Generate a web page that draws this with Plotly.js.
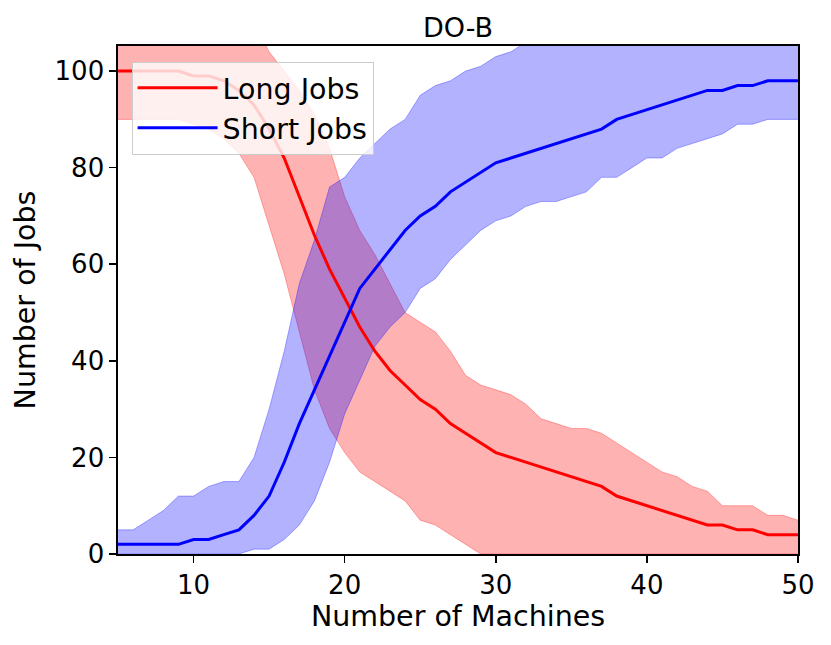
<!DOCTYPE html>
<html>
<head>
<meta charset="utf-8">
<script src="https://cdn.plot.ly/plotly-3.0.1.min.js"></script>
<style>
  html, body { margin: 0; padding: 0; background: #fff; }
  #plot { width: 831px; height: 645px; }
</style>
</head>
<body>
<div id="plot"></div>
<script>
// number of machines, 5..50
const machines = [5, 6, 7, 8, 9, 10, 11, 12, 13, 14, 15, 16, 17, 18, 19, 20, 21, 22, 23, 24, 25, 26, 27,
  28, 29, 30, 31, 32, 33, 34, 35, 36, 37, 38, 39, 40, 41, 42, 43, 44, 45, 46, 47, 48, 49, 50];

// long jobs: mean and band edges
const longMean = [100, 100, 100, 100, 100, 99, 99, 98, 96, 93, 88, 82, 74, 66, 59, 53, 47, 42, 38, 35, 32, 30, 27,
  25, 23, 21, 20, 19, 18, 17, 16, 15, 14, 12, 11, 10, 9, 8, 7, 6, 6, 5, 5, 4, 4, 4];
const longLow = [90, 90, 90, 90, 90, 89, 88, 86, 83, 78, 68, 58, 46, 34, 26, 21, 17, 15, 13, 11, 7, 6, 4,
  2, 0, 0, 0, 0, 0, 0, 0, 0, 0, 0, 0, 0, 0, 0, 0, 0, 0, 0, 0, 0, 0, 0];
const longHigh = [110, 110, 110, 110, 110, 110, 110, 110, 110, 110, 104, 100, 96, 91, 84, 74, 67, 62, 56, 50, 48, 46, 42,
  37, 35, 34, 33, 31, 28, 27, 26, 26, 25, 23, 21, 19, 17, 16, 14, 13, 10, 10, 10, 8, 8, 7];

// short jobs: mean and band edges
const shortMean = [2, 2, 2, 2, 2, 3, 3, 4, 5, 8, 12, 19, 27, 34, 41, 48, 55, 59, 63, 67, 70, 72, 75,
  77, 79, 81, 82, 83, 84, 85, 86, 87, 88, 90, 91, 92, 93, 94, 95, 96, 96, 97, 97, 98, 98, 98];
const shortLow = [0, 0, 0, 0, 0, 0, 0, 0, 0, 1, 1, 3, 6, 11, 19, 29, 36, 43, 47, 50, 55, 57, 61,
  64, 67, 69, 70, 72, 73, 73, 74, 75, 78, 78, 80, 82, 82, 84, 85, 86, 87, 89, 89, 90, 90, 90];
const shortHigh = [5, 5, 7, 9, 12, 12, 14, 15, 15, 20, 30, 42, 56, 65, 76, 78, 82, 85, 88, 90, 95, 97, 98,
  100, 101, 103, 104, 106, 107, 108, 108, 109, 110, 110, 110, 110, 110, 110, 110, 110, 110, 110, 110, 110, 110, 110];

const font = "DejaVu Sans, Arial, sans-serif";

function band(lo, hi, edge, fill) {
  return [
    { x: machines, y: lo, type: "scatter", mode: "lines", line: { color: edge, width: 1 },
      showlegend: false, hoverinfo: "skip" },
    { x: machines, y: hi, type: "scatter", mode: "lines", line: { color: edge, width: 1 },
      fill: "tonexty", fillcolor: fill, showlegend: false, hoverinfo: "skip" }
  ];
}

const traces = [
  ...band(longLow, longHigh, "rgba(255,0,0,0.3)", "rgba(255,0,0,0.3)"),
  ...band(shortLow, shortHigh, "rgba(0,0,255,0.3)", "rgba(0,0,255,0.3)"),
  { x: machines, y: longMean, type: "scatter", mode: "lines", name: "Long Jobs", legendgroup: "long",
    line: { color: "red", width: 3 } },
  { x: machines, y: shortMean, type: "scatter", mode: "lines", name: "Short Jobs", legendgroup: "short",
    line: { color: "blue", width: 3 } }
];

const axisStyle = {
  showline: true, mirror: true, linecolor: "black", linewidth: 1.6,
  ticks: "outside", ticklen: 7, tickwidth: 1.6, tickcolor: "black",
  showgrid: false, zeroline: false,
  tickfont: { family: font, size: 26, color: "black" }
};

const layout = {
  width: 831, height: 645,
  margin: { l: 118, r: 33, t: 46, b: 91 },
  paper_bgcolor: "white", plot_bgcolor: "white",
  font: { family: font, color: "black" },
  title: { text: "DO-B", font: { family: font, size: 27, color: "black" },
    x: 0.5, xref: "paper", y: 0.958, yref: "container", yanchor: "middle" },
  xaxis: Object.assign({}, axisStyle, {
    range: [5, 50], tickvals: [10, 20, 30, 40, 50],
    title: { text: "Number of Machines", font: { family: font, size: 28.5, color: "black" }, standoff: 6 }
  }),
  yaxis: Object.assign({}, axisStyle, {
    range: [0, 105.2], tickvals: [0, 20, 40, 60, 80, 100],
    title: { text: "Number of Jobs", font: { family: font, size: 28.5, color: "black" }, standoff: 10 }
  }),
  legend: {
    x: 0.02, y: 0.969, xanchor: "left", yanchor: "top",
    traceorder: "normal", tracegroupgap: 6, itemwidth: 80,
    bgcolor: "rgba(255,255,255,0.8)", bordercolor: "#cccccc", borderwidth: 1,
    font: { family: font, size: 28.5, color: "black" }
  },
  showlegend: true
};

Plotly.newPlot("plot", traces, layout, { displayModeBar: false, staticPlot: true });
</script>
</body>
</html>
